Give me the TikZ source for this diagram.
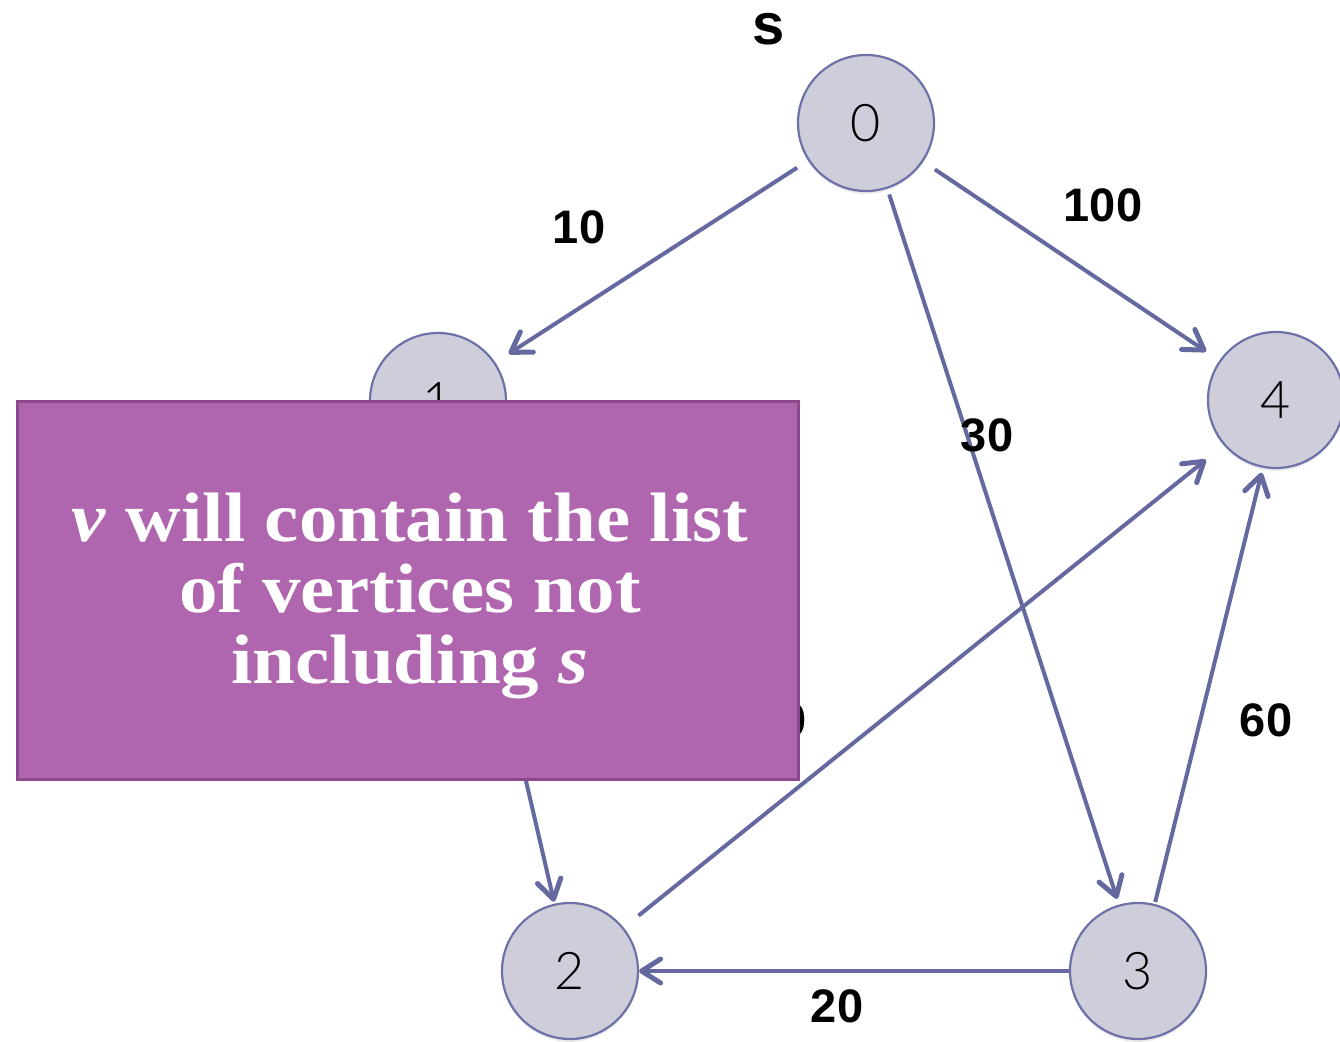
\documentclass[tikz,border=0pt]{standalone}
\usepackage{fontspec}
\setmainfont{Liberation Serif}
\newfontfamily\labelfont{Liberation Sans}
\newfontfamily\numfont{Lato Light}
\usetikzlibrary{arrows.meta,shadows}
\definecolor{edgeblue}{HTML}{6569A0}
\definecolor{nodefill}{HTML}{CDCEDA}
\definecolor{nodeborder}{HTML}{6E71A8}
\definecolor{notefill}{HTML}{B065AF}
\definecolor{noteborder}{HTML}{8C4A8C}
\begin{document}
\begin{tikzpicture}[x=1pt,y=-1pt,
  vertex/.style={circle, minimum size=136pt, inner sep=0pt, fill=nodefill,
    draw=nodeborder, line width=2.2pt,
    font=\numfont\fontsize{52}{52}\selectfont,
    drop shadow={opacity=0.15, shadow xshift=0pt, shadow yshift=-3pt}},
  edge/.style={draw=edgeblue, line width=4pt,
    -{Straight Barb[length=19pt,width=24pt,line width=5pt,round]}},
  weight/.style={font=\labelfont\bfseries\fontsize{47}{47}\selectfont},
  note/.style={rectangle, fill=notefill, draw=noteborder, line width=3pt}]

\useasboundingbox (0,0) rectangle (1340,1041);

% vertices
\node[vertex] (n0) at (866,123) {0};
\node[vertex] (n1) at (438,401) {1};
\node[vertex] (n2) at (570,971) {2};
\node[vertex] (n3) at (1138,971) {3};
\node[vertex] (n4) at (1276,400) {4};

% source marker
\node[font=\labelfont\bfseries\fontsize{58}{58}\selectfont] (src) at (769,29) {s};

% weighted edges
\draw[edge, shorten <=13pt, shorten >=16pt] (n0.213) -- (n1.34);
\draw[edge, shorten <=14pt, shorten >=16pt] (n0.-34) -- (n4.145);
\draw[edge, shorten <=6pt, shorten >=6pt] (n0.-72) -- (n3.106);
\draw[edge, shorten <=2pt, shorten >=5pt] (n3.76) -- (n4.259);
\draw[edge, shorten <=19pt, shorten >=23pt] (n2.39) -- (n4.221);
\draw[edge] (n3.west) -- (n2.east);
\draw[edge, shorten <=2pt, shorten >=2pt] (n1.283) -- (n2.103);

% edge weights
\node[weight] (w01) at (579,227) {10};
\node[weight] (w04) at (1103,205) {100};
\node[weight] (w03) at (987,435) {30};
\node[weight] (w34) at (1266,720) {60};
\node[weight] (w32) at (837,1006) {20};
\node[weight] (w24) at (780,720) {10};

% annotation box
\draw[note] (17,401) rectangle (798,779);
\node[text=white, inner sep=0pt] (txt) at (410,598) {\scalebox{1.1}[1]{\fontsize{70}{71}\selectfont\bfseries
  \begin{tabular}{@{}c@{}}
  \textit{v} will contain the list\\
  of vertices not\\
  including \textit{s}
  \end{tabular}}};
\end{tikzpicture}
\end{document}
